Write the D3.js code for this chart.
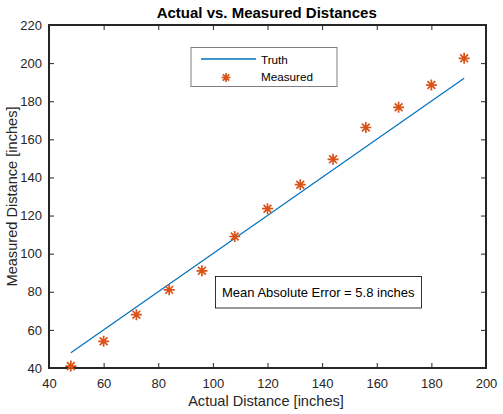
<!DOCTYPE html>
<html><head><meta charset="utf-8">
<script src="https://cdn.jsdelivr.net/npm/d3@7"></script>
<style>body{margin:0;background:#fff}svg{display:block;font-family:"Liberation Sans",Arial,sans-serif}</style>
</head><body><svg id="c" width="503" height="414"></svg>
<script>
const actual = [48, 60, 72, 84, 96, 108, 120, 132, 144, 156, 168, 180, 192];
const measured = [41, 54, 68, 81, 91, 109, 123.6, 136.2, 149.5, 166.2, 176.8, 188.5, 202.5];
const truth = [48, 192];
const xTicks = [40, 60, 80, 100, 120, 140, 160, 180, 200];
const yTicks = [40, 60, 80, 100, 120, 140, 160, 180, 200, 220];
const title = "Actual vs. Measured Distances";
const xLabel = "Actual Distance [inches]";
const yLabel = "Measured Distance [inches]";
const note = "Mean Absolute Error = 5.8 inches";

const L = 49, R = 486, T = 25, B = 368;
const svg = d3.select("#c");
const x = d3.scaleLinear().domain([40, 200]).range([L, R]);
const y = d3.scaleLinear().domain([40, 220]).range([B, T]);
const axisCol = "#262626", blue = "#0072BD", orange = "#D95319";

function axisStyle(g){
  g.select(".domain").remove();
  g.selectAll(".tick line").attr("stroke", axisCol).attr("stroke-width", 1);
  g.selectAll(".tick text").attr("fill", axisCol).style("font-size", "13px").style("font-family", "Liberation Sans, Arial, sans-serif");
}
svg.append("g").attr("transform", `translate(0,${B})`).call(d3.axisBottom(x).tickValues(xTicks).tickSize(-5).tickPadding(11)).call(axisStyle);
svg.append("g").attr("transform", `translate(0,${T})`).call(d3.axisTop(x).tickValues(xTicks).tickSize(-5).tickFormat("")).call(axisStyle);
svg.append("g").attr("transform", `translate(${L},0)`).call(d3.axisLeft(y).tickValues(yTicks).tickSize(-5).tickPadding(7)).call(axisStyle);
svg.append("g").attr("transform", `translate(${R},0)`).call(d3.axisRight(y).tickValues(yTicks).tickSize(-5).tickFormat("")).call(axisStyle);
svg.append("rect").attr("x", L).attr("y", T).attr("width", R - L).attr("height", B - T)
  .attr("fill", "none").attr("stroke", axisCol).attr("stroke-width", 2);

// truth line
svg.append("line").attr("x1", x(truth[0])).attr("y1", y(truth[0])).attr("x2", x(truth[1])).attr("y2", y(truth[1]))
  .attr("stroke", blue).attr("stroke-width", 1.2);

function asterisk(g, cx, cy, r){
  const d = r * 0.707;
  const p = `M${cx-r},${cy}H${cx+r}M${cx},${cy-r}V${cy+r}M${cx-d},${cy-d}L${cx+d},${cy+d}M${cx-d},${cy+d}L${cx+d},${cy-d}`;
  g.append("path").attr("d", p).attr("stroke", orange).attr("stroke-width", 1.7).attr("fill", "none");
}
const mg = svg.append("g");
actual.forEach((a, i) => asterisk(mg, x(a), y(measured[i]), 5.5));

// title & labels
svg.append("text").attr("x", 266.7).attr("y", 17.5).attr("text-anchor", "middle")
  .style("font-size", "15px").style("font-weight", "bold").attr("fill", "#000").text(title);
svg.append("text").attr("x", 266).attr("y", 405.5).attr("text-anchor", "middle")
  .style("font-size", "14.6px").attr("fill", axisCol).text(xLabel);
svg.append("text").attr("transform", `translate(17,${(T + B) / 2}) rotate(-90)`).attr("text-anchor", "middle")
  .style("font-size", "14.6px").attr("fill", axisCol).text(yLabel);

// legend
const lg = svg.append("g");
lg.append("rect").attr("x", 191).attr("y", 47.5).attr("width", 146).attr("height", 39)
  .attr("fill", "#fff").attr("stroke", "#7f7f7f").attr("stroke-width", 1);
lg.append("line").attr("x1", 201).attr("x2", 256).attr("y1", 59).attr("y2", 59).attr("stroke", blue).attr("stroke-width", 1.5);
lg.append("text").attr("x", 261).attr("y", 63.5).style("font-size", "11.7px").attr("fill", "#000").text("Truth");
asterisk(lg, 226, 77.5, 4.5);
lg.append("text").attr("x", 261).attr("y", 80.5).style("font-size", "11.7px").attr("fill", "#000").text("Measured");

// annotation box
svg.append("rect").attr("x", 215.5).attr("y", 276.5).attr("width", 206).attr("height", 31.5)
  .attr("fill", "#fff").attr("stroke", "#000").attr("stroke-width", 0.8);
svg.append("text").attr("x", 222).attr("y", 296.5).style("font-size", "13px").attr("fill", "#000").text(note);
</script></body></html>
